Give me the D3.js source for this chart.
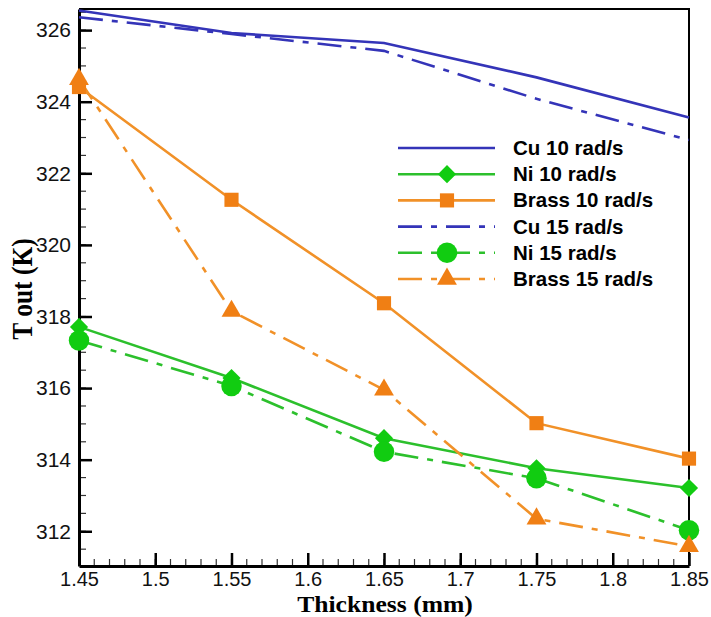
<!DOCTYPE html>
<html>
<head>
<meta charset="utf-8">
<script src="https://cdn.jsdelivr.net/npm/d3@7"></script>
<style>
  body { margin: 0; background: #fff; }
  svg { display: block; }
</style>
</head>
<body>
<script>

// thickness values (mm)
let thickness = [1.45, 1.55, 1.65, 1.75, 1.85];

// outlet temperature (K)
let cu10 = [326.55, 325.92, 325.64, 324.68, 323.56];
let ni10 = [317.71, 316.28, 314.60, 313.76, 313.21];
let brass10 = [324.41, 321.26, 318.37, 315.02, 314.03];
let cu15 = [326.36, 325.89, 325.42, 324.08, 322.93];
let ni15 = [317.33, 316.06, 314.22, 313.48, 312.03];
let brass15 = [324.63, 318.15, 315.95, 312.35, 311.58];

let seriesNames = ["Cu 10 rad/s", "Ni 10 rad/s", "Brass 10 rad/s", "Cu 15 rad/s", "Ni 15 rad/s", "Brass 15 rad/s"];

let xTicks = [1.45, 1.5, 1.55, 1.6, 1.65, 1.7, 1.75, 1.8, 1.85];
let xTickLabels = ["1.45", "1.5", "1.55", "1.6", "1.65", "1.7", "1.75", "1.8", "1.85"];
let yTicks = [312, 314, 316, 318, 320, 322, 324, 326];

let width = 711;
let height = 617;
let padLeft = 79, padRight = 689, padTop = 9, padBottom = 566;

let blue = "#3434b8";
let green = "#2cc02c";
let greenMark = "#11cc11";
let orange = "#f19128";
let orangeMark = "#f07f14";
let dashDot = "24,9,6,9";

// styling per series (kept apart from the values)
let series = [
    { name: seriesNames[0], values: cu10, color: blue, mark: null, dash: null },
    { name: seriesNames[1], values: ni10, color: green, mark: "diamond", fill: greenMark, dash: null },
    { name: seriesNames[2], values: brass10, color: orange, mark: "square", fill: orangeMark, dash: null },
    { name: seriesNames[3], values: cu15, color: blue, mark: null, dash: dashDot },
    { name: seriesNames[4], values: ni15, color: green, mark: "circle", fill: greenMark, dash: dashDot },
    { name: seriesNames[5], values: brass15, color: orange, mark: "triangle", fill: orangeMark, dash: dashDot }
]

let xScale = d3.scaleLinear()
    .domain([1.45, 1.85])
    .range([padLeft, padRight])

let yScale = d3.scaleLinear()
    .domain([311.03, 326.59])
    .range([padBottom, padTop])

let svg = d3.select("body")
    .append("svg")
    .attr("width", width)
    .attr("height", height)

// frame top + right
svg.append("path")
    .attr("d", `M${padLeft},${padTop}H${padRight}V${padBottom}`)
    .attr("fill", "none")
    .attr("stroke", "#000")
    .attr("stroke-width", 2)

// minor ticks
svg.append("g").selectAll("line")
    .data(d3.range(0, 41).map(i => 1.45 + i * 0.01))
    .enter()
    .append("line")
    .attr("x1", d => xScale(d)).attr("x2", d => xScale(d))
    .attr("y1", padBottom).attr("y2", padBottom - 7)
    .attr("stroke", "#333").attr("stroke-width", 1.2)

svg.append("g").selectAll("line")
    .data(d3.range(0, 31).map(i => 311.5 + i * 0.5))
    .enter()
    .append("line")
    .attr("x1", padLeft).attr("x2", padLeft + 7)
    .attr("y1", d => yScale(d)).attr("y2", d => yScale(d))
    .attr("stroke", "#333").attr("stroke-width", 1.2)

// x axis
let xAxis = d3.axisBottom(xScale)
    .tickValues(xTicks)
    .tickFormat((d, i) => xTickLabels[i])
    .tickSizeInner(-13)
    .tickSizeOuter(0)
    .tickPadding(6)
let gx = svg.append("g")
    .attr("transform", "translate(0," + padBottom + ")")
    .call(xAxis)
gx.select(".domain").attr("stroke-width", 3)
gx.selectAll(".tick line").attr("stroke-width", 2.5)
gx.selectAll("text")
    .attr("font-family", "'Liberation Sans', Arial, sans-serif")
    .attr("font-size", 20)
    .attr("fill", "#111")

// y axis
let yAxis = d3.axisLeft(yScale)
    .tickValues(yTicks)
    .tickSizeInner(-13)
    .tickSizeOuter(0)
    .tickPadding(8)
let gy = svg.append("g")
    .attr("transform", "translate(" + padLeft + ",0)")
    .call(yAxis)
gy.select(".domain").attr("stroke-width", 3)
gy.selectAll(".tick line").attr("stroke-width", 2.5)
gy.selectAll("text")
    .attr("font-family", "'Liberation Sans', Arial, sans-serif")
    .attr("font-size", 21)
    .attr("fill", "#111")

// marker shapes
function markerPath(type) {
    if (type == "diamond") return d3.symbol(d3.symbolSquare, 165)()
    if (type == "square") return d3.symbol(d3.symbolSquare, 200)()
    if (type == "circle") return d3.symbol(d3.symbolCircle, 330)()
    if (type == "triangle") return d3.symbol(d3.symbolTriangle, 170)()
    return null
}
function markerRotate(type) {
    return type == "diamond" ? " rotate(45)" : ""
}

let line = d3.line()
    .x((d, i) => xScale(thickness[i]))
    .y(d => yScale(d))

// lines
series.forEach(s => {
    svg.append("path")
        .datum(s.values)
        .attr("d", line)
        .attr("fill", "none")
        .attr("stroke", s.color)
        .attr("stroke-width", 2.6)
        .attr("stroke-dasharray", s.dash)
})

// markers
series.filter(s => s.mark).forEach(s => {
    svg.append("g").selectAll("path")
        .data(s.values)
        .enter()
        .append("path")
        .attr("d", markerPath(s.mark))
        .attr("transform", (d, i) => `translate(${xScale(thickness[i])},${yScale(d)})` + markerRotate(s.mark))
        .attr("fill", s.fill)
})

// legend
let legend = svg.append("g")
let rowStart = 148, rowStep = 26.2
series.forEach((s, i) => {
    let y = rowStart + i * rowStep
    legend.append("line")
        .attr("x1", 398).attr("x2", 495)
        .attr("y1", y).attr("y2", y)
        .attr("stroke", s.color)
        .attr("stroke-width", 2.6)
        .attr("stroke-dasharray", s.dash)
    if (s.mark) {
        legend.append("path")
            .attr("d", markerPath(s.mark))
            .attr("transform", `translate(447,${y})` + markerRotate(s.mark))
            .attr("fill", s.fill)
    }
    legend.append("text")
        .attr("x", 513)
        .attr("y", y + 7)
        .attr("font-family", "'Liberation Sans', Arial, sans-serif")
        .attr("font-weight", "bold")
        .attr("font-size", 20.5)
        .attr("fill", "#000")
        .text(s.name)
})

// x axis label
svg.append("text")
    .attr("transform", "translate(385,611.5) scale(1.09,1)")
    .attr("text-anchor", "middle")
    .attr("font-family", "'Liberation Serif', 'Times New Roman', serif")
    .attr("font-weight", "bold")
    .attr("font-size", 23.5)
    .text("Thickness (mm)")

// y axis label
svg.append("text")
    .attr("transform", "translate(32,289) rotate(-90) scale(1,1.12)")
    .attr("text-anchor", "middle")
    .attr("font-family", "'Liberation Serif', 'Times New Roman', serif")
    .attr("font-weight", "bold")
    .attr("font-size", 25.5)
    .text("T out (K)")

</script>
</body>
</html>
